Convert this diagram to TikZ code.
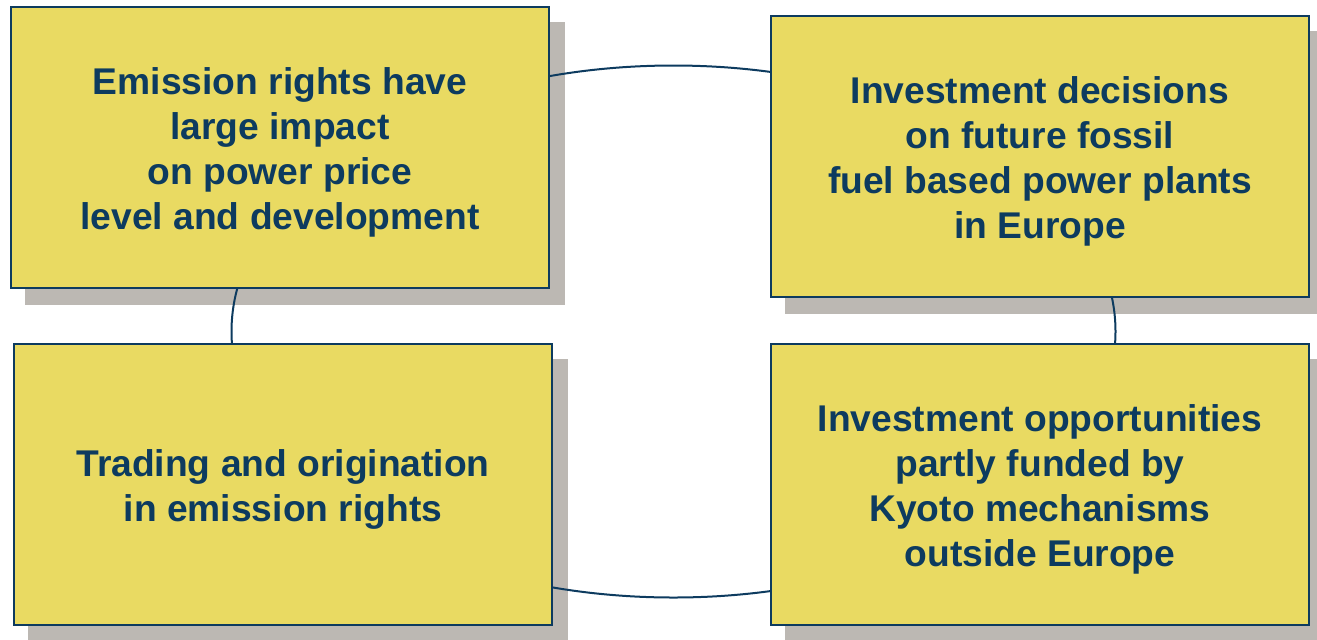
\documentclass[tikz,border=0pt]{standalone}
\usepackage{fontspec}
\setmainfont{Liberation Sans}
\usetikzlibrary{positioning}

\definecolor{boxfill}{HTML}{E9DA62}
\definecolor{boxline}{HTML}{0D3B5F}
\definecolor{shadegray}{HTML}{BCB8B3}

\pgfdeclarelayer{shade}
\pgfdeclarelayer{ring}
\pgfsetlayers{shade,ring,main}

\tikzset{
  topic/.style={draw=boxline, line width=1pt, fill=boxfill,
    minimum width=269pt, minimum height=140.5pt, inner sep=0pt},
  gist/.style={text=boxline, align=center, inner sep=0pt, yshift=-2.5pt,
    font=\bfseries\fontsize{18.6}{22.5}\selectfont},
  ring/.style={draw=boxline, line width=1pt},
}

\begin{document}
\begin{tikzpicture}[x=0.5pt, y=-0.5pt]
  \useasboundingbox (0,0) rectangle (1317,639);

  % the four topics
  \node[topic, label={[gist]center:{Emission rights have\\large impact\\on power price\\level and development}}] (impact) at (280,147.5) {};
  \node[topic, label={[gist]center:{Investment decisions\\on future fossil\\fuel based power plants\\in Europe}}] (invest) at (1040,156) {};
  \node[topic, label={[gist]center:{Trading and origination\\in emission rights}}] (trade) at (283,484.5) {};
  \node[topic, label={[gist]center:{Investment opportunities\\partly funded by\\Kyoto mechanisms\\outside Europe}}] (kyoto) at (1040,484.5) {};

  % shadows
  \begin{pgfonlayer}{shade}
    \foreach \b in {impact,invest,trade,kyoto}
      \fill[shadegray] ([shift={(7.5pt,-8pt)}]\b.south west) rectangle ([shift={(7.5pt,-8pt)}]\b.north east);
  \end{pgfonlayer}

  % ring linking the topics
  \coordinate (hub) at (673.5,331.5);
  \begin{pgfonlayer}{ring}
    \draw[ring] (hub) ellipse [x radius=442, y radius=266];
  \end{pgfonlayer}
\end{tikzpicture}
\end{document}
